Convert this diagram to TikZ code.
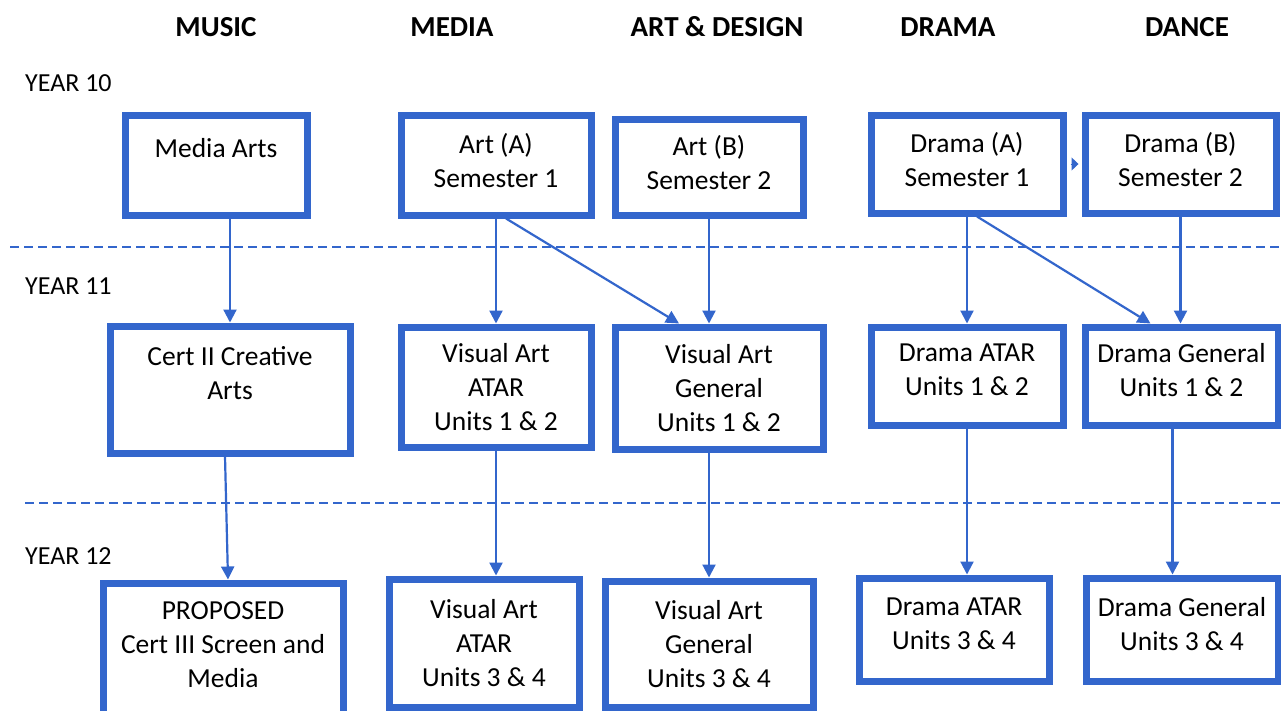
\documentclass[tikz,border=0pt]{standalone}
\usepackage{fontspec}
\setmainfont{Carlito}
\usepackage{xcolor}
\definecolor{pathblue}{HTML}{3366CC}
\usepackage{tikz}
\usetikzlibrary{positioning, arrows.meta}

\tikzset{
  course/.style={draw=pathblue, line width=7pt, fill=white, align=center, inner sep=0pt,
    font=\fontsize{27.5}{34}\selectfont},
  subject/.style={font=\bfseries\fontsize{29}{34}\selectfont, inner sep=0pt},
  yearlbl/.style={font=\fontsize{26}{30}\selectfont, inner sep=0pt, anchor=west},
  flow/.style={draw=pathblue, line width=2.2pt, -{Triangle[length=13pt,width=13pt]}},
  divider/.style={draw=pathblue, line width=2pt, dash pattern=on 9pt off 5pt},
}

\begin{document}
\begin{tikzpicture}[x=1pt, y=-1pt]
            \clip (0,0) rectangle (1281,710);
            \fill[white] (0,0) rectangle (1281,710);
            % column headings and year labels
            \foreach \name/\xpos/\txt in {music/216/MUSIC, media/452/MEDIA, artdesign/717/ART \& DESIGN, drama/948/DRAMA, dance/1187/DANCE}
                \node[subject] (\name) at (\xpos,27) {\txt};
            \foreach \name/\ypos/\txt in {yten/83/YEAR 10, yeleven/286/YEAR 11, ytwelve/556/YEAR 12}
                \node[yearlbl] (\name) at (25,\ypos) {\txt};
            \draw[divider] (10,247) -- (1281,247);
            \draw[divider] (25,503) -- (1281,503);
            % year 10
            \node[course, minimum width=182, minimum height=100] (mediaarts) at (216,165) {Media Arts\\\mbox{}};
            \node[course, minimum width=190, minimum height=100] (artA) at (496,165) {Art (A)\\Semester 1\\[-24pt]};
            \node[course, minimum width=188, minimum height=96] (artB) at (709,167) {Art (B)\\Semester 2\\[-24pt]};
            \node[course, minimum width=192, minimum height=98] (dramaA) at (967,164) {Drama (A)\\Semester 1\\[-24pt]};
            \node[course, minimum width=191, minimum height=98] (dramaB) at (1180.5,164) {Drama (B)\\Semester 2\\[-24pt]};
            % year 11
            \node[course, minimum width=240, minimum height=127] (certii) at (230,389.5) {Cert II Creative\\Arts\\\mbox{}};
            \node[course, minimum width=190, minimum height=120] (vaatar) at (496,387) {Visual Art\\ATAR\\Units 1 \& 2};
            \node[course, minimum width=208, minimum height=122] (vagen) at (719,388) {Visual Art\\General\\Units 1 \& 2};
            \node[course, minimum width=192, minimum height=98] (dramaatar) at (967,376) {Drama ATAR\\Units 1 \& 2\\[-22pt]};
            \node[course, minimum width=193, minimum height=98] (dramagen) at (1181.5,376) {Drama General\\Units 1 \& 2\\[-22pt]};
            % year 12
            \node[course, minimum width=240, minimum height=140] (proposed) at (223,653) {PROPOSED\\Cert III Screen and\\Media\\[-18pt]};
            \node[course, minimum width=190, minimum height=128] (vaatarB) at (484,643) {Visual Art\\ATAR\\Units 3 \& 4};
            \node[course, minimum width=208, minimum height=126] (vagenB) at (709,644) {Visual Art\\General\\Units 3 \& 4};
            \node[course, minimum width=190, minimum height=103] (dramaatarB) at (954,629.5) {Drama ATAR\\Units 3 \& 4\\[-22pt]};
            \node[course, minimum width=192, minimum height=103] (dramagenB) at (1182,629.5) {Drama General\\Units 3 \& 4\\[-22pt]};
            % pathways
            \draw[flow] (certii.north |- mediaarts.south) -- (certii.north);
            \draw[flow] ([xshift=-5pt]certii.south) -- ([xshift=5pt]proposed.north);
            \draw[flow] (artA.south) -- (vaatar.north);
            \draw[flow] ([xshift=10pt]artA.south) -- ([xshift=-40pt]vagen.north);
            \draw[flow] (artB.south) -- (artB.south |- vagen.north);
            \draw[flow] (vaatar.south) -- (vaatar.south |- vaatarB.north);
            \draw[flow] (vagenB.north |- vagen.south) -- (vagenB.north);
            \draw[flow] (dramaA.south) -- (dramaatar.north);
            \draw[flow] ([xshift=10pt]dramaA.south) -- ([xshift=-31pt]dramagen.north);
            \draw[flow] (dramaB.south) -- (dramaB.south |- dramagen.north);
            \draw[flow] (dramaatar.south) -- (dramaatar.south |- dramaatarB.north);
            \draw[flow] ([xshift=-9pt]dramagen.south) -- ([xshift=-9pt]dramagen.south |- dramagenB.north);
            \draw[draw=pathblue, line width=1pt, -{Triangle[length=7pt,width=13pt]}] ([xshift=4pt]dramaA.east) -- ([xshift=-3pt]dramaB.west);
        \end{tikzpicture}
\end{document}
